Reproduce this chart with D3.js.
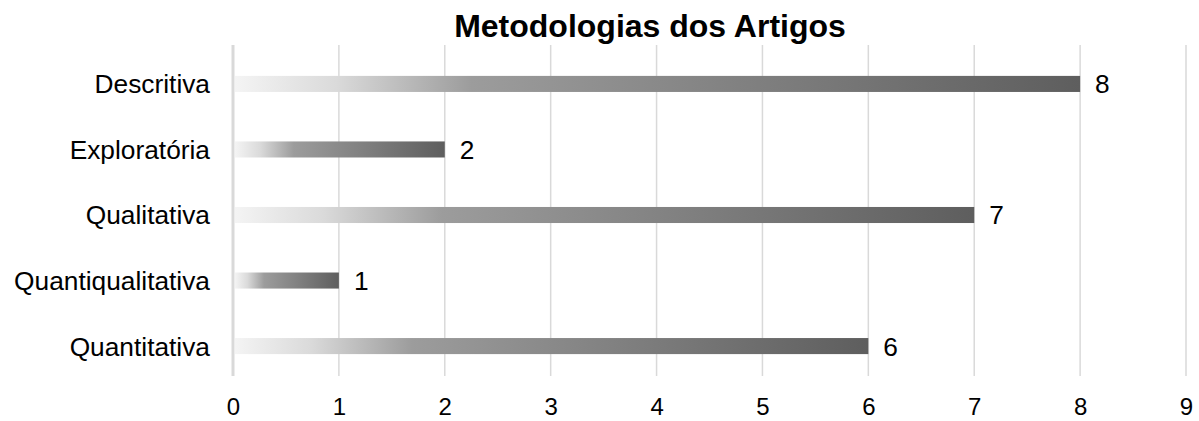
<!DOCTYPE html>
<html>
<head>
<meta charset="utf-8">
<script src="https://cdn.jsdelivr.net/npm/d3@7"></script>
<style>
  html, body { margin: 0; padding: 0; background: #fff; }
  svg { display: block; font-family: "Liberation Sans", Arial, sans-serif; }
</style>
</head>
<body>
<svg id="chart" width="1199" height="421"></svg>
<script>
// Methodology counts per category
const categories = ["Descritiva", "Exploratória", "Qualitativa", "Quantiqualitativa", "Quantitativa"];
const values = [8, 2, 7, 1, 6];
const tickValues = [0, 1, 2, 3, 4, 5, 6, 7, 8, 9];
const title = "Metodologias dos Artigos";

const svg = d3.select("#chart");
const margin = { left: 233, right: 13, top: 51, bottom: 42 };
const W = 1199, H = 421;
const labelSize = 26.3;
const tickSize = 24;

const x = d3.scaleLinear().domain([0, 9]).range([margin.left, W - margin.right]);
const y = d3.scaleBand().domain(categories).range([margin.top, H - margin.bottom]).paddingInner(0.755).paddingOuter(0.38);

// Horizontal gradient applied per bar
const defs = svg.append("defs");
const grad = defs.append("linearGradient").attr("id", "barGrad")
  .attr("x1", "0%").attr("x2", "100%").attr("y1", "0%").attr("y2", "0%");
[[0, "#f4f4f4"], [0.12, "#dadada"], [0.28, "#9c9c9c"], [0.55, "#858585"], [1, "#5e5e5e"]]
  .forEach(([o, c]) => grad.append("stop").attr("offset", o).attr("stop-color", c));

// Vertical gridlines
svg.append("g").selectAll("line").data(tickValues.slice(1)).join("line")
  .attr("x1", d => x(d)).attr("x2", d => x(d))
  .attr("y1", 45).attr("y2", 376)
  .attr("stroke", "#d9d9d9").attr("stroke-width", 1.5);

// Category axis line
svg.append("line")
  .attr("x1", x(0)).attr("x2", x(0)).attr("y1", 45).attr("y2", 376)
  .attr("stroke", "#d9d9d9").attr("stroke-width", 3);

// Bars
svg.append("g").selectAll("rect").data(categories).join("rect")
  .attr("x", x(0) + 2)
  .attr("y", d => y(d))
  .attr("width", (d, i) => x(values[i]) - x(0) - 2)
  .attr("height", y.bandwidth())
  .attr("fill", "url(#barGrad)");

// Value labels
svg.append("g").selectAll("text").data(categories).join("text")
  .attr("x", (d, i) => x(values[i]) + 15)
  .attr("y", d => y(d) + y.bandwidth() / 2)
  .attr("dy", "0.36em")
  .attr("font-size", labelSize).attr("fill", "#000")
  .text((d, i) => values[i]);

// Category labels
svg.append("g").selectAll("text").data(categories).join("text")
  .attr("x", 210)
  .attr("y", d => y(d) + y.bandwidth() / 2)
  .attr("dy", "0.36em")
  .attr("text-anchor", "end")
  .attr("font-size", labelSize).attr("fill", "#000")
  .text(d => d);

// Value axis labels
const xAxis = d3.axisBottom(x).tickValues(tickValues).tickSize(0).tickPadding(0).tickFormat(d3.format("d"));
const gx = svg.append("g").attr("transform", `translate(0, 415)`).call(xAxis);
gx.select(".domain").remove();
gx.selectAll("text").attr("font-size", tickSize).attr("fill", "#000")
  .attr("font-family", "'Liberation Sans', Arial, sans-serif").attr("dy", "0");

// Title
svg.append("text")
  .attr("x", 650).attr("y", 37)
  .attr("text-anchor", "middle")
  .attr("font-size", 32).attr("font-weight", "bold").attr("fill", "#000")
  .text(title);
</script>
</body>
</html>
